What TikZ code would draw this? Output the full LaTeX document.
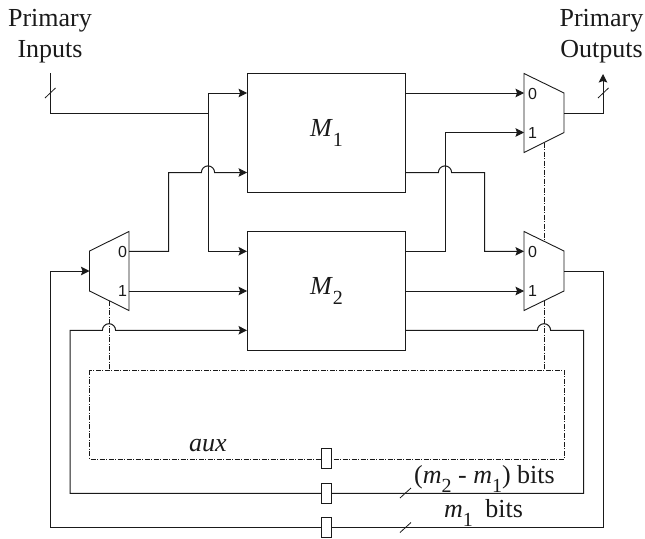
\documentclass[tikz,border=0pt]{standalone}
\usepackage{fontspec}
\setmainfont{Liberation Serif}
\newfontfamily\digitfont{Liberation Sans}
\usetikzlibrary{arrows.meta}
\definecolor{wireink}{HTML}{1A1A1A}
\newcommand{\lowidx}[1]{\raisebox{-9.5pt}{\fontsize{20}{20}\selectfont\upshape #1}}

\begin{document}
\begin{tikzpicture}[
  x=1pt,
  y=-1pt,
  every node/.style={font=\fontsize{26}{31}\selectfont, wireink},
  wire/.style={wireink, line width=1pt},
  arrowwire/.style={wire, -{Stealth[length=8.5pt, width=8.5pt, inset=1.5pt]}},
  muxbody/.style={wireink, line width=0.9pt, line join=miter},
  selwire/.style={wireink, line width=0.8pt,
                  dash pattern=on 5pt off 1.5pt on 1pt off 1.5pt},
  slashmark/.style={wireink, line width=0.8pt},
  blockbox/.style={draw=wireink, line width=0.9pt, minimum width=158pt,
                   minimum height=118.5pt, inner sep=0pt},
  latchbox/.style={draw=wireink, fill=white, line width=0.9pt, minimum width=10.5pt,
                   minimum height=20.5pt, inner sep=0pt},
  muxdigit/.style={font=\digitfont\fontsize{16}{16}\selectfont, inner sep=0pt}
]
  \useasboundingbox (0,0) rectangle (645,538);

  %% ---- two memory blocks ----------------------------------------------
  \node[blockbox] (M1) at (326.5,132.75) {\textit{M}\lowidx{1}};
  \node[blockbox] (M2) at (326.5,290.75) {\textit{M}\lowidx{2}};

  %% ---- three multiplexers ---------------------------------------------
  \draw[muxbody] (524,73.5) -- (564,93) -- (564,132.5) -- (524,152.5) -- cycle;
  \draw[muxbody] (524,231.5) -- (564,251) -- (564,291) -- (524,310.5) -- cycle;
  \draw[muxbody] (129,231.5) -- (89.5,251) -- (89.5,291) -- (129,310.5) -- cycle;

  \node[muxdigit] (topzero) at (532.5,94) {0};
  \node[muxdigit] (topone) at (532.5,133) {1};
  \node[muxdigit] (lowzero) at (532.5,251.5) {0};
  \node[muxdigit] (lowone) at (532.5,291) {1};
  \node[muxdigit] (leftzero) at (122.5,251.5) {0};
  \node[muxdigit] (leftone) at (122.5,291) {1};

  %% ---- ports ----------------------------------------------------------
  \coordinate (topin0) at (524,93);
  \coordinate (topin1) at (524,132.5);
  \coordinate (topout) at (564,113);
  \coordinate (lowin0) at (524,251.3);
  \coordinate (lowin1) at (524,291);
  \coordinate (lowout) at (564,271);
  \coordinate (leftin) at (89.5,271);
  \coordinate (leftout0) at (129,251.3);
  \coordinate (leftout1) at (129,291);
  \coordinate (inend) at (50,73);
  \coordinate (outend) at (603,74);
  \coordinate (fork) at (208,113);

  %% ---- wires ----------------------------------------------------------
  \draw[wire] (inend) -- (50,113) -- (fork);
  \draw[arrowwire] (fork) -- (208,93) -- (M1.west |- 0,93);
  \draw[arrowwire] (fork) -- (208,251.3) -- (M2.west |- 0,251.3);
  \draw[arrowwire] (leftout0) -- (168.5,251.3) -- (168.5,172.5) -- (201.4,172.5)
    arc[start angle=180, end angle=360, radius=6.6] -- (M1.west |- 0,172.5);
  \draw[arrowwire] (leftout1) -- (M2.west |- 0,291);

  \draw[arrowwire] (M1.east |- 0,93) -- (topin0);
  \draw[arrowwire] (M1.east |- 0,172.5) -- (438.4,172.5)
    arc[start angle=180, end angle=360, radius=6.6] -- (484.5,172.5) -- (484.5,251.3) -- (lowin0);
  \draw[arrowwire] (M2.east |- 0,251.3) -- (445,251.3) -- (445,132.5) -- (topin1);
  \draw[arrowwire] (M2.east |- 0,291) -- (lowin1);

  \draw[arrowwire] (topout) -- (603,113) -- (outend);
  \draw[arrowwire] (lowout) -- (603,271) -- (603,527.5) -- (50,527.5) -- (50,271) -- (leftin);
  \draw[arrowwire] (M2.east |- 0,330.3) -- (537.4,330.3)
    arc[start angle=180, end angle=360, radius=6.6] -- (583.5,330.3) -- (583.5,493.4)
    -- (70,493.4) -- (70,330.3) -- (102.4,330.3)
    arc[start angle=180, end angle=360, radius=6.6] -- (M2.west |- 0,330.3);

  %% ---- aux frame and select lines -------------------------------------
  \draw[selwire] (89.5,370) rectangle (564,459);
  \draw[selwire] (109,301) -- (109,370);
  \draw[selwire] (544,142.5) -- (544,241);
  \draw[selwire] (544,301) -- (544,370);

  %% ---- latches on the three return paths ------------------------------
  \node[latchbox] (auxlatch) at (326.5,458.5) {};
  \node[latchbox] (midlatch) at (326.5,493.4) {};
  \node[latchbox] (lowlatch) at (326.5,527.5) {};

  %% ---- bus slashes ----------------------------------------------------
  \draw[slashmark] (45,98) -- (55.5,88);
  \draw[slashmark] (598,98) -- (608.5,88);
  \draw[slashmark] (400,498) -- (411,488);
  \draw[slashmark] (400,532.5) -- (411,522.5);

  %% ---- labels ---------------------------------------------------------
  \node[align=center, inner sep=0pt] (inlabel) at (50,36) {Primary\\Inputs};
  \node[align=center, inner sep=0pt] (outlabel) at (601.5,36) {Primary\\Outputs};
  \node[anchor=base west, inner sep=0pt] (auxlabel) at (189,451) {\textit{aux}};
  \node[anchor=base west, inner sep=0pt] (widelabel) at (414,483)
    {(\textit{m}\lowidx{2} - \textit{m}\lowidx{1}) bits};
  \node[anchor=base west, inner sep=0pt] (narrowlabel) at (444,517)
    {\textit{m}\lowidx{1}\hspace{6pt} bits};
\end{tikzpicture}
\end{document}
